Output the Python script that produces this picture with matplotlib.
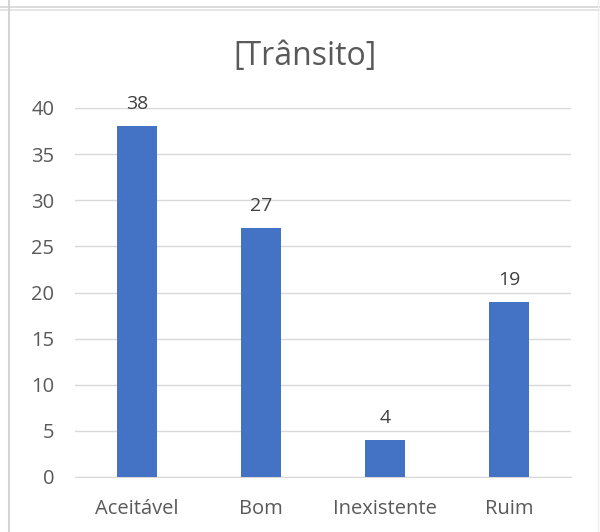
import matplotlib.pyplot as plt
from matplotlib.lines import Line2D

categories = ['Aceitável', 'Bom', 'Inexistente', 'Ruim']
values = [38, 27, 4, 19]
yticks = [0, 5, 10, 15, 20, 25, 30, 35, 40]

bar_color = '#4472C4'
text_color = '#595959'
grid_color = '#D9D9D9'

plt.rcParams['font.family'] = ['Open Sans', 'DejaVu Sans']

fig = plt.figure(figsize=(6, 5.32), dpi=100)
ax = fig.add_axes([75/600, 55/532, 496/600, 369/532])

x = range(len(categories))
bars = ax.bar(x, values, width=0.315, color=bar_color, zorder=3)
for b, v in zip(bars, values):
    ax.annotate(str(v), (b.get_x() + b.get_width()/2, v), xytext=(0, 9.5),
                textcoords='offset points', ha='center', va='bottom',
                fontsize=14, color='#404040')

ax.set_xlim(-0.5, len(categories) - 0.5)
ax.set_ylim(0, 40)
ax.set_yticks(yticks)
ax.set_xticks(list(x))
ax.set_xticklabels(categories)
ax.grid(axis='y', color=grid_color, linewidth=1, zorder=0)
ax.tick_params(length=0, labelsize=14.5, colors=text_color, pad=16)
ax.tick_params(axis='y', pad=15)
for s in ['top', 'right', 'left']:
    ax.spines[s].set_visible(False)
ax.spines['bottom'].set_color(grid_color)
fig.text(305/600, 1 - 57/532, '[Trânsito]', fontsize=23, color=text_color,
         ha='center', va='center')

# spreadsheet cell borders behind the chart
fig.add_artist(Line2D([0, 1], [1 - 7/532, 1 - 7/532], color='#D4D4D4', lw=1.2))
fig.add_artist(Line2D([0, 1], [1 - 10/532, 1 - 10/532], color='#E0E0E0', lw=1.2))
fig.add_artist(Line2D([9/600, 9/600], [0, 1], color='#D4D4D4', lw=1.5))
fig.add_artist(Line2D([598/600, 598/600], [0, 1], color='#EEEEEE', lw=1))

fig.savefig('out.png', dpi=100)
